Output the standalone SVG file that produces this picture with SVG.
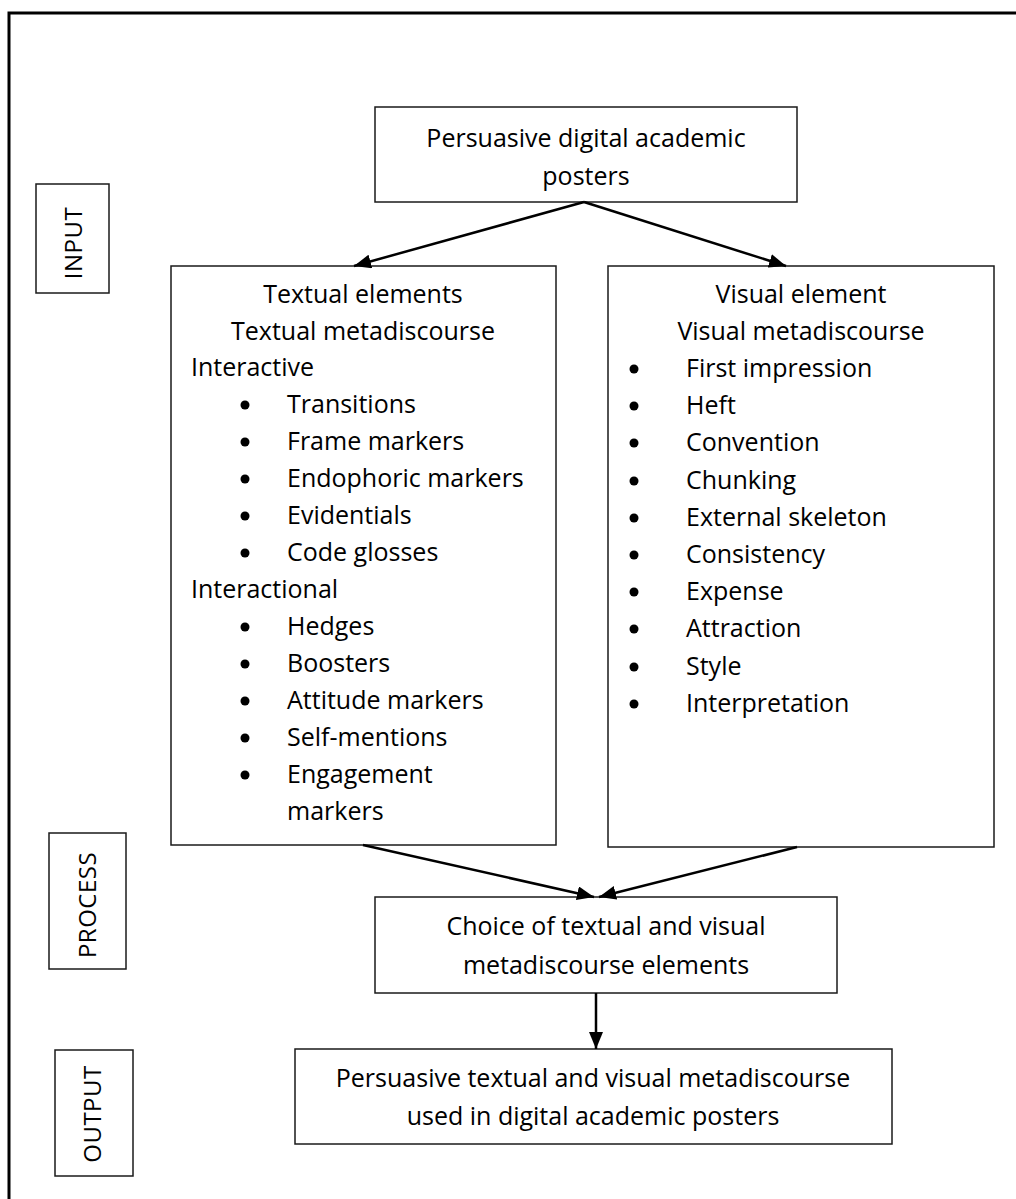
<svg xmlns="http://www.w3.org/2000/svg" width="1016" height="1199" viewBox="0 0 1016 1199">
  <style>
    .box { fill: #ffffff; stroke: #1a1a1a; stroke-width: 1.5; }
    .t { font-family: "Open Sans", "Liberation Sans", sans-serif; font-size: 25px; fill: #000; }
    .c { text-anchor: middle; }
    .lbl { font-family: "Open Sans", "Liberation Sans", sans-serif; font-size: 24px; letter-spacing: 0.5px; fill: #000; text-anchor: middle; }
    .conn { stroke: #000; stroke-width: 2.5; fill: none; marker-end: url(#arrow); }
    .dot { fill: #000; }
  </style>
  <defs>
    <marker id="arrow" markerUnits="userSpaceOnUse" markerWidth="18" markerHeight="14" refX="17" refY="7" orient="auto">
      <path d="M0,0 L17,7 L0,14 z" fill="#000"/>
    </marker>
  </defs>
  <rect width="1016" height="1199" fill="#ffffff"/>
  <path d="M9,1199 V13 H1016" fill="none" stroke="#000" stroke-width="3"/>

  <g id="label-input">
    <rect class="box" x="36" y="184" width="73" height="109"/>
    <text class="lbl" transform="translate(82,243) rotate(-90)">INPUT</text>
  </g>
  <g id="label-process">
    <rect class="box" x="49" y="833" width="77" height="136"/>
    <text class="lbl" transform="translate(96,905) rotate(-90)">PROCESS</text>
  </g>
  <g id="label-output">
    <rect class="box" x="55" y="1050" width="78" height="126"/>
    <text class="lbl" transform="translate(101,1114) rotate(-90)">OUTPUT</text>
  </g>

  <g id="node-posters">
    <rect class="box" x="375" y="107" width="422" height="95"/>
    <text class="t c" x="586" y="147">Persuasive digital academic</text>
    <text class="t c" x="586" y="185">posters</text>
  </g>

  <g id="node-textual">
    <rect class="box" x="171" y="266" width="385" height="579"/>
    <text class="t c" x="363" y="303">Textual elements</text>
    <text class="t c" x="363" y="340">Textual metadiscourse</text>
    <text class="t" x="191" y="376">Interactive</text>
    <circle class="dot" cx="245" cy="405" r="4.5"/><text class="t" x="287" y="413">Transitions</text>
    <circle class="dot" cx="245" cy="442" r="4.5"/><text class="t" x="287" y="450">Frame markers</text>
    <circle class="dot" cx="245" cy="479" r="4.5"/><text class="t" x="287" y="487">Endophoric markers</text>
    <circle class="dot" cx="245" cy="516" r="4.5"/><text class="t" x="287" y="524">Evidentials</text>
    <circle class="dot" cx="245" cy="553" r="4.5"/><text class="t" x="287" y="561">Code glosses</text>
    <text class="t" x="191" y="598">Interactional</text>
    <circle class="dot" cx="245" cy="627" r="4.5"/><text class="t" x="287" y="635">Hedges</text>
    <circle class="dot" cx="245" cy="664" r="4.5"/><text class="t" x="287" y="672">Boosters</text>
    <circle class="dot" cx="245" cy="701" r="4.5"/><text class="t" x="287" y="709">Attitude markers</text>
    <circle class="dot" cx="245" cy="738" r="4.5"/><text class="t" x="287" y="746">Self-mentions</text>
    <circle class="dot" cx="245" cy="775" r="4.5"/><text class="t" x="287" y="783">Engagement</text>
    <text class="t" x="287" y="820">markers</text>
  </g>

  <g id="node-visual">
    <rect class="box" x="608" y="266" width="386" height="581"/>
    <text class="t c" x="801" y="303">Visual element</text>
    <text class="t c" x="801" y="340">Visual metadiscourse</text>
    <circle class="dot" cx="634" cy="369" r="4.5"/><text class="t" x="686" y="377">First impression</text>
    <circle class="dot" cx="634" cy="406" r="4.5"/><text class="t" x="686" y="414">Heft</text>
    <circle class="dot" cx="634" cy="443" r="4.5"/><text class="t" x="686" y="451">Convention</text>
    <circle class="dot" cx="634" cy="481" r="4.5"/><text class="t" x="686" y="489">Chunking</text>
    <circle class="dot" cx="634" cy="518" r="4.5"/><text class="t" x="686" y="526">External skeleton</text>
    <circle class="dot" cx="634" cy="555" r="4.5"/><text class="t" x="686" y="563">Consistency</text>
    <circle class="dot" cx="634" cy="592" r="4.5"/><text class="t" x="686" y="600">Expense</text>
    <circle class="dot" cx="634" cy="629" r="4.5"/><text class="t" x="686" y="637">Attraction</text>
    <circle class="dot" cx="634" cy="667" r="4.5"/><text class="t" x="686" y="675">Style</text>
    <circle class="dot" cx="634" cy="704" r="4.5"/><text class="t" x="686" y="712">Interpretation</text>
  </g>

  <g id="node-choice">
    <rect class="box" x="375" y="897" width="462" height="96"/>
    <text class="t c" x="606" y="935">Choice of textual and visual</text>
    <text class="t c" x="606" y="974">metadiscourse elements</text>
  </g>

  <g id="node-output">
    <rect class="box" x="295" y="1049" width="597" height="95"/>
    <text class="t c" x="593" y="1087">Persuasive textual and visual metadiscourse</text>
    <text class="t c" x="593" y="1125">used in digital academic posters</text>
  </g>

  <g id="connectors">
    <line class="conn" x1="584" y1="202" x2="354" y2="266"/>
    <line class="conn" x1="584" y1="202" x2="786" y2="266"/>
    <line class="conn" x1="363" y1="845" x2="594" y2="897"/>
    <line class="conn" x1="797" y1="847" x2="599" y2="897"/>
    <line class="conn" x1="596" y1="993" x2="596" y2="1049"/>
  </g>
</svg>
